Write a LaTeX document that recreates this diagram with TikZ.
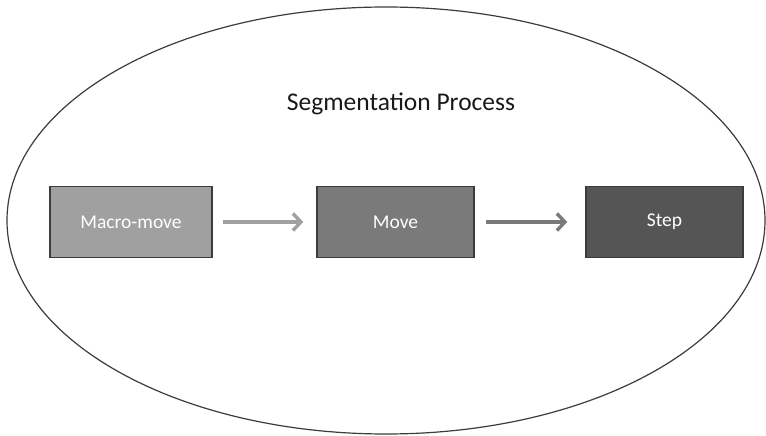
\documentclass[tikz,border=0pt]{standalone}
\usepackage{fontspec}
\setmainfont{Carlito}
\usetikzlibrary{arrows.meta,shapes.geometric}
\definecolor{boxA}{HTML}{A0A0A0}
\definecolor{boxB}{HTML}{7A7A7A}
\definecolor{boxC}{HTML}{555555}
\definecolor{edgegray}{HTML}{3C3C3C}
\tikzset{
  stage/.style={draw=edgegray, line width=1.5pt, minimum width=157pt, minimum height=71pt,
    inner sep=0pt, text=white, font=\fontsize{19.5}{23}\selectfont},
  flow/.style={line width=3.6pt, -{Straight Barb[length=8pt, width=17pt, line width=3.4pt]}, shorten >=2pt},
}
\begin{document}
\begin{tikzpicture}[x=1pt, y=-1pt]
  \useasboundingbox (0,0) rectangle (766,436);
  % enclosing process boundary
  \node[draw=edgegray, line width=1.2pt, ellipse, minimum width=758pt, minimum height=427pt, inner sep=0pt] (process) at (386,220.5) {};
  \node[font=\fontsize{25.5}{30}\selectfont, text=black!90] (title) at (401,104) {Segmentation Process};
  % the three segmentation levels
  \node[stage, fill=boxA, minimum width=162pt] (macro) at (131,222) {Macro-move};
  \node[stage, fill=boxB] (move) at (395.5,222) {Move};
  \node[stage, fill=boxC] (stp) at (664.5,222) {Step};
  % connectors
  \draw[flow, draw=boxA] ([xshift=10pt]macro.east) -- ([xshift=-11pt]move.west);
  \draw[flow, draw=boxB] ([xshift=11pt]move.east) -- ([xshift=-16pt]stp.west);
\end{tikzpicture}
\end{document}
